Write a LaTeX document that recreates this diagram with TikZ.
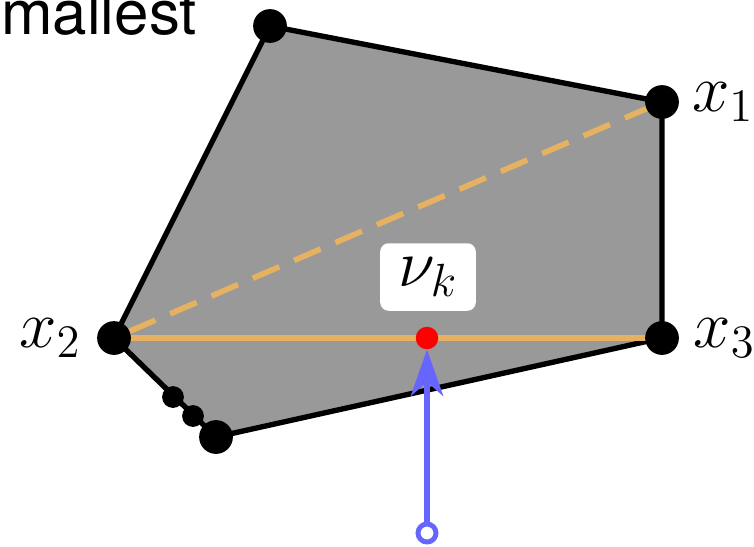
\documentclass[tikz,border=0pt]{standalone}
\usepackage{graphicx}
\usepackage{fontspec}
\setsansfont{TeX Gyre Heros}
\usetikzlibrary{arrows.meta,positioning}

\definecolor{hullgray}{HTML}{999999}
\definecolor{segorange}{HTML}{E6B262}
\definecolor{dirblue}{HTML}{6666FF}

\newcommand{\bigmath}[1]{\scalebox{2.3}{\huge$#1$}}

\tikzset{
  vertex/.style={circle, fill=black, inner sep=0pt, minimum size=24pt},
  smallvertex/.style={circle, fill=black, inner sep=0pt, minimum size=15.5pt},
  mathlabel/.style={inner sep=0pt},
}

\begin{document}
\begin{tikzpicture}[x=0.025cm, y=-0.025cm]
    \useasboundingbox (0,0) rectangle (754,546);

    % Corner points of the polygon
    \coordinate (top) at (270,26);
    \coordinate (c1) at (662,102);
    \coordinate (c3) at (662,338);
    \coordinate (bot) at (216,437);
    \coordinate (c2) at (114,338);

    % Draw the filled polygon
    \draw[fill=hullgray, line width=3.8pt, line join=round]
        (top) -- (c1) -- (c3) -- (bot) -- (c2) -- cycle;

    % Draw the segments from x_2
    \draw[segorange, line width=4pt, dash pattern=on 20.5pt off 11.5pt, dash phase=20.5pt] (c2) -- (c1);
    \draw[segorange, line width=4pt] (c2) -- (c3);

    % Draw the corner points
    \node[vertex] (ptop) at (top) {};
    \node[vertex] (p1) at (c1) {};
    \node[vertex] (p3) at (c3) {};
    \node[vertex] (pbot) at (bot) {};
    \node[vertex] (p2) at (c2) {};
    \node[smallvertex] (q1) at (173,397) {};
    \node[smallvertex] (q2) at (193,416) {};

    % Labels of the corner points
    \node[mathlabel, right=9pt of p1] (l1) {\bigmath{x_1}};
    \node[mathlabel, left=11pt of p2] (l2) {\bigmath{x_2}};
    \node[mathlabel, right=10pt of p3] (l3) {\bigmath{x_3}};

    % Draw the point nu_k and its label
    \node[circle, fill=red, inner sep=0pt, minimum size=16pt] (nuk) at (427,338) {};
    \node[fill=white, rounded corners=6pt, minimum width=68pt, minimum height=48pt,
          inner sep=0pt] (nulabel) at (428,277) {\bigmath{\nu_k}};

    % Draw the arrow up to nu_k
    \node[circle, inner sep=0pt, minimum size=12.8pt] (src) at (427,533) {};
    \draw[dirblue, line width=4pt, -{Stealth[length=33pt, width=23pt, inset=10pt]}] (src) -- (nuk);
    \node[circle, draw=dirblue, fill=white, line width=3.5pt, inner sep=0pt, minimum size=12.8pt] at (src) {};

    % Text cut at the top left
    \node[anchor=base west, inner sep=0pt, font=\sffamily\fontsize{44}{52}\selectfont] (title) at (1,34) {mallest};
\end{tikzpicture}
\end{document}
